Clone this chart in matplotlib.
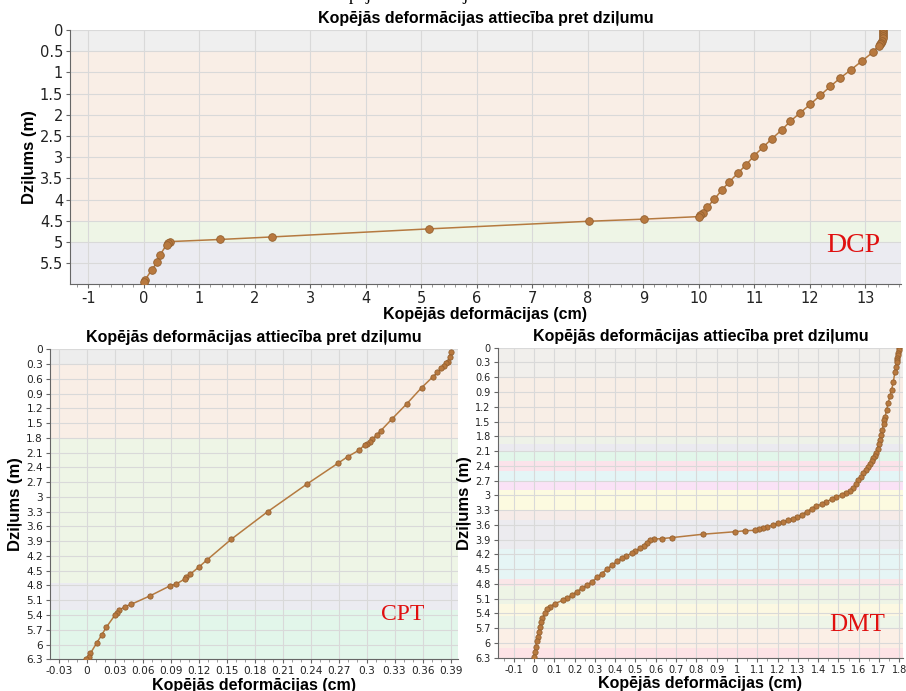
import matplotlib
matplotlib.use("Agg")
import matplotlib.pyplot as plt
from matplotlib.ticker import FixedLocator, FuncFormatter, AutoMinorLocator

# DCP: total deformation (cm) vs depth (m)
dcp_depth = [0.00, 0.05, 0.10, 0.15, 0.20, 0.25, 0.30, 0.34, 0.37, 0.53, 0.73,
             0.94, 1.13, 1.33, 1.54, 1.75, 1.95, 2.15, 2.35, 2.56, 2.76, 2.96,
             3.18, 3.38, 3.58, 3.78, 3.99, 4.18, 4.31, 4.36, 4.40, 4.46, 4.51,
             4.69, 4.88, 4.94, 4.99, 5.03, 5.06, 5.31, 5.48, 5.66, 5.90, 5.95]
dcp_def = [13.32, 13.32, 13.32, 13.31, 13.31, 13.30, 13.29, 13.27, 13.24, 13.13,
           12.94, 12.74, 12.55, 12.37, 12.19, 12.01, 11.83, 11.65, 11.50, 11.32,
           11.16, 11.00, 10.85, 10.70, 10.55, 10.41, 10.28, 10.15, 10.07, 10.03,
           10.01, 9.02, 8.03, 5.14, 2.31, 1.37, 0.47, 0.44, 0.41, 0.29, 0.24,
           0.14, 0.02, 0.00]

# CPT
cpt_depth = [0.05, 0.15, 0.25, 0.28, 0.33, 0.39, 0.47, 0.56, 0.78, 1.11, 1.42,
             1.66, 1.74, 1.83, 1.88, 1.92, 1.94, 2.05, 2.18, 2.32, 2.74, 3.30,
             3.86, 4.28, 4.43, 4.57, 4.63, 4.67, 4.77, 4.81, 5.01, 5.18, 5.23,
             5.30, 5.35, 5.41, 5.65, 5.81, 5.96, 6.18, 6.25, 6.30]
cpt_def = [0.391, 0.389, 0.387, 0.385, 0.383, 0.380, 0.376, 0.371, 0.359, 0.343,
           0.327, 0.315, 0.311, 0.306, 0.304, 0.300, 0.298, 0.292, 0.280, 0.269,
           0.236, 0.194, 0.155, 0.129, 0.120, 0.111, 0.107, 0.105, 0.096, 0.089,
           0.068, 0.048, 0.041, 0.035, 0.033, 0.030, 0.021, 0.016, 0.011, 0.004,
           0.002, -0.001]

# DMT
dmt_depth = [0.00, 0.05, 0.10, 0.15, 0.20, 0.25, 0.30, 0.40, 0.50, 0.70, 0.85,
             0.98, 1.12, 1.27, 1.40, 1.47, 1.55, 1.67, 1.77, 1.88, 1.96, 2.05,
             2.13, 2.20, 2.25, 2.31, 2.37, 2.42, 2.48, 2.55, 2.62, 2.69, 2.78,
             2.86, 2.91, 2.95, 2.99, 3.03, 3.08, 3.13, 3.18, 3.22, 3.27, 3.33,
             3.39, 3.44, 3.48, 3.51, 3.54, 3.57, 3.60, 3.64, 3.67, 3.69, 3.71,
             3.72, 3.74, 3.79, 3.86, 3.88, 3.89, 3.91, 3.96, 4.02, 4.08, 4.13,
             4.18, 4.23, 4.28, 4.34, 4.42, 4.50, 4.59, 4.67, 4.76, 4.83, 4.89,
             4.96, 5.03, 5.08, 5.13, 5.20, 5.26, 5.32, 5.40, 5.50, 5.58, 5.67,
             5.77, 5.87, 5.97, 6.08, 6.18, 6.28]
dmt_def = [1.800, 1.798, 1.795, 1.792, 1.790, 1.788, 1.786, 1.783, 1.778, 1.770,
           1.762, 1.754, 1.745, 1.737, 1.730, 1.726, 1.722, 1.716, 1.710, 1.704,
           1.698, 1.693, 1.685, 1.678, 1.672, 1.665, 1.655, 1.647, 1.635, 1.622,
           1.612, 1.598, 1.585, 1.573, 1.557, 1.535, 1.516, 1.490, 1.466, 1.440,
           1.417, 1.390, 1.368, 1.345, 1.319, 1.298, 1.278, 1.250, 1.228, 1.200,
           1.179, 1.150, 1.130, 1.110, 1.089, 1.039, 0.990, 0.834, 0.678, 0.629,
           0.590, 0.571, 0.555, 0.540, 0.522, 0.500, 0.481, 0.455, 0.432, 0.410,
           0.383, 0.360, 0.333, 0.310, 0.284, 0.260, 0.235, 0.210, 0.186, 0.165,
           0.144, 0.103, 0.079, 0.065, 0.054, 0.041, 0.035, 0.030, 0.025, 0.018,
           0.013, 0.008, 0.004, 0.000]

# soil layers per test: (top, bottom, colour)
dcp_layers = [(0.0, 0.5, "#efefef"), (0.5, 4.5, "#f9eee6"),
              (4.5, 5.0, "#eef5e6"), (5.0, 6.0, "#ebebf1")]
cpt_layers = [(0.0, 0.3, "#ededed"), (0.3, 1.8, "#f9eee6"),
              (1.8, 4.75, "#eef5e6"), (4.75, 5.3, "#ebebf1"),
              (5.3, 6.3, "#e2f6ea")]
dmt_layers = [(0.0, 0.6, "#f1efec"), (0.6, 1.8, "#f8eee6"),
              (1.8, 1.95, "#eef2e8"), (1.95, 2.1, "#ebeaf0"),
              (2.1, 2.3, "#e2f6ea"), (2.3, 2.5, "#fbe3ea"),
              (2.5, 2.7, "#e4f5f6"), (2.7, 2.9, "#fae2f6"),
              (2.9, 3.3, "#fcfae0"), (3.3, 3.5, "#f6ebe8"),
              (3.5, 4.1, "#ecebef"), (4.1, 4.7, "#e6f5f5"),
              (4.7, 4.85, "#fae6e8"), (4.85, 5.2, "#eef4e6"),
              (5.2, 5.45, "#fcf8e2"), (5.45, 5.7, "#eef5e8"),
              (5.7, 6.1, "#fbefe6"), (6.1, 6.3, "#fde3e6")]

dcp_xticks = list(range(-1, 14))
dcp_yticks = [0, 0.5, 1, 1.5, 2, 2.5, 3, 3.5, 4, 4.5, 5, 5.5]
cpt_xticks = [-0.03, 0, 0.03, 0.06, 0.09, 0.12, 0.15, 0.18, 0.21, 0.24, 0.27,
              0.3, 0.33, 0.36, 0.39]
dmt_xticks = [-0.1, 0, 0.1, 0.2, 0.3, 0.4, 0.5, 0.6, 0.7, 0.8, 0.9, 1, 1.1,
              1.2, 1.3, 1.4, 1.5, 1.6, 1.7, 1.8]
bottom_yticks = [0, 0.3, 0.6, 0.9, 1.2, 1.5, 1.8, 2.1, 2.4, 2.7, 3, 3.3, 3.6,
                 3.9, 4.2, 4.5, 4.8, 5.1, 5.4, 5.7, 6, 6.3]

title = "Kopējās deformācijas attiecība pret dziļumu"
xlabel = "Kopējās deformācijas (cm)"
ylabel = "Dziļums (m)"

LINE = "#b57a40"
FACE = "#b8793f"
EDGE = "#94602f"
bold = dict(family="Liberation Sans", weight="bold")

fmt = FuncFormatter(lambda v, p: f"{round(v, 3):g}")


def draw_panel(ax, xs, ys, layers, xlim, ylim, xticks, yticks, tick_fs,
               ms, tag, tag_pos, tag_fs, xminor):
    for top, bot, c in layers:
        ax.axhspan(top, bot, color=c, zorder=0, lw=0)
    ax.plot(xs, ys, "-o", color=LINE, lw=1.1, ms=ms, mfc=FACE, mec=EDGE,
            mew=0.6, zorder=3)
    ax.set_xlim(*xlim)
    ax.set_ylim(*ylim)
    ax.xaxis.set_major_locator(FixedLocator(xticks))
    ax.yaxis.set_major_locator(FixedLocator(yticks))
    ax.xaxis.set_major_formatter(fmt)
    ax.yaxis.set_major_formatter(fmt)
    ax.xaxis.set_minor_locator(AutoMinorLocator(xminor))
    ax.grid(True, which="major", color="#d9d9d9", lw=0.8, zorder=1)
    ax.set_axisbelow(True)
    for s in ("top", "right"):
        ax.spines[s].set_visible(False)
    for s in ("left", "bottom"):
        ax.spines[s].set_color("#666666")
    ax.tick_params(which="major", length=3, color="#666666",
                   labelsize=tick_fs, labelcolor="#222222", pad=2)
    ax.tick_params(which="minor", length=2, color="#888888")
    ax.set_title(title, fontsize=11.5, pad=5, **bold)
    ax.set_xlabel(xlabel, fontsize=11.5, labelpad=1, **bold)
    ax.set_ylabel(ylabel, fontsize=12, labelpad=2, **bold)
    ax.text(*tag_pos, tag, transform=ax.transAxes, color="#e01010",
            fontsize=tag_fs, family="Liberation Serif", ha="center",
            va="center", zorder=4)


fig = plt.figure(figsize=(9.06, 6.91), dpi=100)

ax_dcp = fig.add_axes([0.0773, 0.589, 0.917, 0.3676])
draw_panel(ax_dcp, dcp_def, dcp_depth, dcp_layers, (-1.33, 13.64),
           (5.99, 0), dcp_xticks, dcp_yticks, 10.5, 5.5, "DCP",
           (0.9433, 0.15), 20, 5)

ax_cpt = fig.add_axes([0.0552, 0.0459, 0.4503, 0.4486])
draw_panel(ax_cpt, cpt_def, cpt_depth, cpt_layers, (-0.0393, 0.398),
           (6.3, 0), cpt_xticks, bottom_yticks, 7.6, 3.8, "CPT",
           (0.865, 0.145), 17, 3)

ax_dmt = fig.add_axes([0.5493, 0.0482, 0.4474, 0.4486])
draw_panel(ax_dmt, dmt_def, dmt_depth, dmt_layers, (-0.179, 1.818),
           (6.3, 0), dmt_xticks, bottom_yticks, 7, 3.8, "DMT",
           (0.8875, 0.105), 18, 2)

# caption of the page above, only its descenders fall inside the figure
fig.text(327 / 906, 1 + 0.5 / 691, "Kopējās deformācijas",
         family="Liberation Serif", fontsize=13, ha="left", va="baseline")

fig.savefig("out.png", dpi=100)
